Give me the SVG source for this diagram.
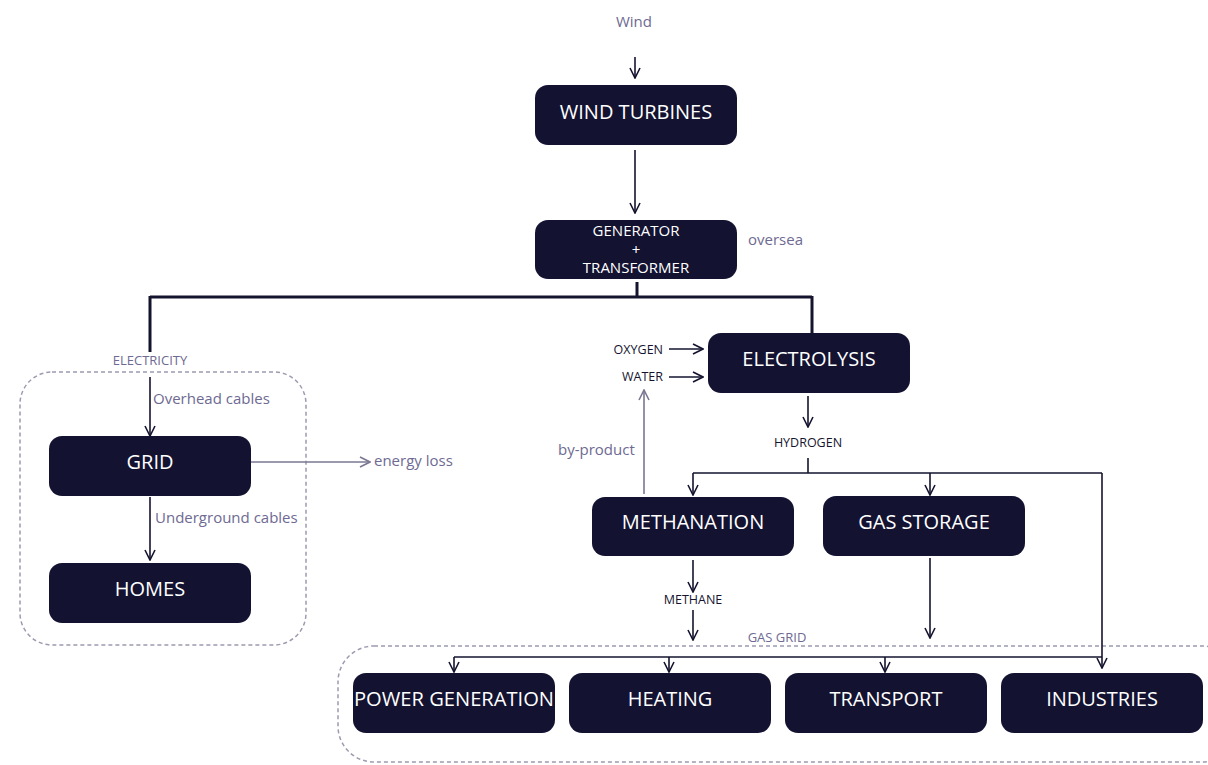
<svg xmlns="http://www.w3.org/2000/svg" width="1208" height="765" viewBox="0 0 1208 765">
<defs>
<marker id="ah" viewBox="0 0 12 12" refX="11" refY="6" markerWidth="12" markerHeight="12" markerUnits="userSpaceOnUse" orient="auto">
<path d="M1,1 L11,6 L1,11" fill="none" stroke="#15142f" stroke-width="1.6"/>
</marker>
<marker id="ahg" viewBox="0 0 12 12" refX="11" refY="6" markerWidth="12" markerHeight="12" markerUnits="userSpaceOnUse" orient="auto">
<path d="M1,1 L11,6 L1,11" fill="none" stroke="#7a7792" stroke-width="1.6"/>
</marker>
</defs>
<style>
.n{fill:#131231}
.nt{fill:#ffffff;font-family:"Open Sans",sans-serif;font-size:20px;text-anchor:middle}
.st{fill:#ffffff;font-family:"Open Sans",sans-serif;font-size:15px;text-anchor:middle}
.lbl{fill:#6e6a92;font-family:"Open Sans",sans-serif;font-size:15px}
.sm{fill:#6e6a92;font-family:"Open Sans",sans-serif;font-size:13px}
.dk{fill:#15142f;font-family:"Open Sans",sans-serif;font-size:12.5px}
.c{fill:none;stroke:#15142f;stroke-width:1.6}
.thick{fill:none;stroke:#15142f;stroke-width:3}
.g{fill:none;stroke:#7a7792;stroke-width:1.6}
.d{fill:none;stroke:#9c9bb0;stroke-width:1.5;stroke-dasharray:4 3}
</style>
<rect width="1208" height="765" fill="#ffffff"/>
<g id="containers">
<rect class="d" x="20" y="372" width="286" height="273" rx="32"/>
<rect class="d" x="338" y="646" width="900" height="116" rx="36"/>
</g>
<g id="connectors">
<path class="c" d="M635,57 V78" marker-end="url(#ah)"/>
<path class="c" d="M635,150 V213" marker-end="url(#ah)"/>
<path class="thick" d="M637,282 V297 M150,297 H812 M150,296 V352 M812,296 V333"/>
<path class="c" d="M150,377 V436" marker-end="url(#ah)"/>
<path class="g" d="M251,462 H370" marker-end="url(#ahg)"/>
<path class="c" d="M150,497 V560" marker-end="url(#ah)"/>
<path class="c" d="M669,349 H703" marker-end="url(#ah)"/>
<path class="c" d="M669,377 H703" marker-end="url(#ah)"/>
<path class="g" d="M644,494 V390" marker-end="url(#ahg)"/>
<path class="c" d="M808,396 V427" marker-end="url(#ah)"/>
<path class="c" d="M808,458 V473 M693,473 H1102"/>
<path class="c" d="M693,473 V495" marker-end="url(#ah)"/>
<path class="c" d="M930,473 V495" marker-end="url(#ah)"/>
<path class="c" d="M1102,473 V668" marker-end="url(#ah)"/>
<path class="c" d="M693,560 V592" marker-end="url(#ah)"/>
<path class="c" d="M693,610 V640" marker-end="url(#ah)"/>
<path class="c" d="M930,558 V638" marker-end="url(#ah)"/>
<path class="c" d="M454,657 H1102"/>
<path class="c" d="M454,657 V672" marker-end="url(#ah)"/>
<path class="c" d="M669,657 V672" marker-end="url(#ah)"/>
<path class="c" d="M885,657 V672" marker-end="url(#ah)"/>
</g>
<g id="labels">
<text class="lbl" x="634" y="27" text-anchor="middle">Wind</text>
<text class="lbl" x="748" y="245">oversea</text>
<text class="sm" x="150" y="365" text-anchor="middle">ELECTRICITY</text>
<text class="lbl" x="153" y="404">Overhead cables</text>
<text class="lbl" x="374" y="466">energy loss</text>
<text class="lbl" x="155" y="523">Underground cables</text>
<text class="dk" x="663" y="354" text-anchor="end">OXYGEN</text>
<text class="dk" x="663" y="381" text-anchor="end">WATER</text>
<text class="lbl" x="558" y="455">by-product</text>
<text class="dk" x="808" y="447" text-anchor="middle">HYDROGEN</text>
<text class="dk" x="693" y="604" text-anchor="middle">METHANE</text>
<text class="sm" x="777" y="642" text-anchor="middle">GAS GRID</text>
</g>
<g id="wind-turbines"><rect class="n" x="535" y="85" width="202" height="60" rx="13"/><text class="nt" x="636" y="119">WIND TURBINES</text></g>
<g id="generator"><rect class="n" x="535" y="220" width="202" height="59" rx="13"/><text class="st" x="636" y="236">GENERATOR</text><text class="st" x="636" y="255">+</text><text class="st" x="636" y="273">TRANSFORMER</text></g>
<g id="grid"><rect class="n" x="49" y="436" width="202" height="60" rx="13"/><text class="nt" x="150" y="469">GRID</text></g>
<g id="homes"><rect class="n" x="49" y="563" width="202" height="60" rx="13"/><text class="nt" x="150" y="596">HOMES</text></g>
<g id="electrolysis"><rect class="n" x="708" y="333" width="202" height="60" rx="13"/><text class="nt" x="809" y="366">ELECTROLYSIS</text></g>
<g id="methanation"><rect class="n" x="592" y="497" width="202" height="59" rx="13"/><text class="nt" x="693" y="529">METHANATION</text></g>
<g id="gas-storage"><rect class="n" x="823" y="496" width="202" height="60" rx="13"/><text class="nt" x="924" y="529">GAS STORAGE</text></g>
<g id="power-generation"><rect class="n" x="353" y="673" width="202" height="60" rx="13"/><text class="nt" x="454" y="706" textLength="200" lengthAdjust="spacingAndGlyphs">POWER GENERATION</text></g>
<g id="heating"><rect class="n" x="569" y="673" width="202" height="60" rx="13"/><text class="nt" x="670" y="706">HEATING</text></g>
<g id="transport"><rect class="n" x="785" y="673" width="202" height="60" rx="13"/><text class="nt" x="886" y="706">TRANSPORT</text></g>
<g id="industries"><rect class="n" x="1001" y="673" width="202" height="60" rx="13"/><text class="nt" x="1102" y="706">INDUSTRIES</text></g>
</svg>
